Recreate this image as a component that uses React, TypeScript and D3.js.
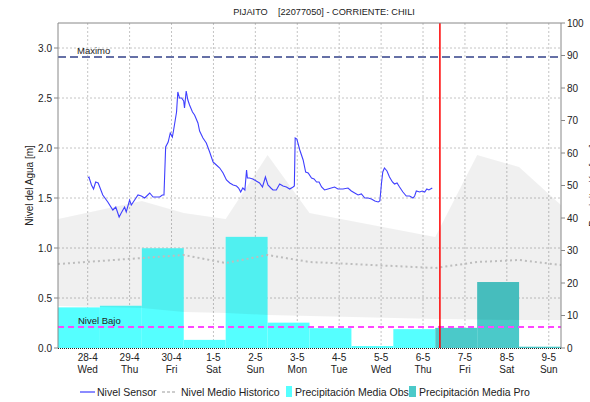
import React from 'react';
import * as d3 from 'd3';

const W = 590, H = 402;
const PL = 58, PR = 561, PT = 23, PB = 348;

const title = 'PIJAITO    [22077050] - CORRIENTE: CHILI';
const domainStart = new Date(2021, 3, 27, 7);
const domainEnd = new Date(2021, 4, 9, 7);
const sensorBase = new Date(2021, 3, 28, 0);
const DAY = 86400000;

// sensor level: days since 28-4 00:00, level in m
const sensorDays = [0.01,0.03,0.09,0.14,0.19,0.25,0.36,0.48,0.60,0.67,0.75,0.80,0.88,0.92,1.00,1.04,1.12,1.20,1.28,1.36,1.48,1.56,1.64,1.72,1.78,1.82,1.86,1.92,1.97,2.02,2.05,2.12,2.15,2.19,2.24,2.29,2.31,2.35,2.39,2.43,2.50,2.55,2.63,2.67,2.75,2.83,2.91,2.99,3.07,3.15,3.23,3.31,3.39,3.47,3.55,3.60,3.65,3.70,3.75,3.79,3.81,3.86,3.94,4.02,4.10,4.17,4.24,4.30,4.37,4.42,4.50,4.58,4.66,4.74,4.82,4.90,4.93,4.95,4.99,5.06,5.14,5.20,5.26,5.34,5.40,5.46,5.52,5.58,5.65,5.73,5.81,5.89,5.97,6.09,6.21,6.29,6.37,6.45,6.53,6.61,6.69,6.77,6.85,6.93,6.97,7.01,7.04,7.08,7.14,7.20,7.27,7.32,7.38,7.44,7.52,7.60,7.68,7.76,7.80,7.84,7.92,7.98,8.04,8.09,8.14,8.22];
const sensorLevels = [1.70,1.71,1.63,1.59,1.66,1.65,1.53,1.46,1.38,1.41,1.31,1.35,1.41,1.36,1.48,1.43,1.48,1.53,1.52,1.50,1.55,1.51,1.51,1.51,1.53,1.53,2.01,2.06,2.15,2.11,2.18,2.36,2.56,2.50,2.50,2.47,2.40,2.57,2.48,2.43,2.36,2.33,2.25,2.17,2.10,2.05,1.96,1.86,1.83,1.80,1.75,1.68,1.65,1.63,1.62,1.60,1.56,1.60,1.58,1.78,1.70,1.70,1.69,1.67,1.65,1.61,1.71,1.63,1.60,1.58,1.58,1.64,1.62,1.61,1.59,1.61,1.62,2.10,2.09,1.98,1.88,1.76,1.75,1.70,1.69,1.66,1.66,1.61,1.58,1.59,1.60,1.61,1.59,1.59,1.60,1.57,1.55,1.53,1.54,1.50,1.50,1.49,1.47,1.46,1.47,1.65,1.76,1.80,1.77,1.71,1.66,1.64,1.65,1.61,1.56,1.52,1.52,1.50,1.52,1.57,1.56,1.57,1.56,1.59,1.58,1.60];

// historical band and mean, at 07:00 of each day from 27-4 to 9-5
const histLower = [0.42,0.41,0.40,0.36,0.35,0.33,0.32,0.31,0.30,0.29,0.285,0.28,0.28];
const histUpper = [1.29,1.38,1.47,1.35,1.29,1.93,1.35,1.27,1.19,1.11,1.93,1.81,1.43];
const histMean = [0.84,0.87,0.90,0.93,0.85,0.93,0.86,0.84,0.82,0.80,0.86,0.88,0.83];

// daily precipitation (mm), 07:00 to 07:00
const precipObs = [12.5,13.0,30.7,2.5,34.2,7.8,6.1,0.6,5.8];
const precipPro = [6.2,20.3,0.4];

const nivelMaximo = 2.91;
const nivelBajo = 0.21;
const nowTime = new Date(2021, 4, 6, 9, 40);

const leftTicks = [0.0,0.5,1.0,1.5,2.0,2.5,3.0];
const rightTicks = [0,10,20,30,40,50,60,70,80,90,100];

const FONT = '"Liberation Sans", Arial, sans-serif';

export default function App() {
  const x = d3.scaleTime().domain([domainStart, domainEnd]).range([PL, PR]);
  const yL = d3.scaleLinear().domain([0, 3.25]).range([PB, PT]);
  const yR = d3.scaleLinear().domain([0, 100]).range([PB, PT]);

  const boundaryDates = d3.range(histLower.length).map(i => new Date(domainStart.getTime() + i * DAY));
  const dayTicks = d3.timeDay.range(new Date(2021, 3, 28), new Date(2021, 4, 9, 1));
  const fmtDate = d3.timeFormat('%-d-%-m');
  const fmtDay = d3.timeFormat('%a');

  const band = d3.area<number>()
    .x((_, i) => x(boundaryDates[i]))
    .y0((_, i) => yL(histLower[i]))
    .y1((_, i) => yL(histUpper[i]));
  const meanLine = d3.line<number>()
    .x((_, i) => x(boundaryDates[i]))
    .y(d => yL(d));
  const sensorLine = d3.line<number>()
    .x((_, i) => x(new Date(sensorBase.getTime() + sensorDays[i] * DAY)))
    .y(d => yL(d));

  const obsBars = precipObs.map((v, i) => {
    const a = boundaryDates[i], b = boundaryDates[i + 1];
    return { x0: x(a), x1: x(b), y: yR(v) };
  });
  const proBars = precipPro.map((v, i) => {
    const a = boundaryDates[precipObs.length + i], b = boundaryDates[precipObs.length + i + 1];
    return { x0: x(a), x1: x(b), y: yR(v) };
  });

  const gridColor = '#c4c4c4';
  const textColor = '#222';

  return (
    <svg width={W} height={H} style={{ position: 'absolute', left: 0, top: 0, background: '#fff' }} fontFamily={FONT}>
      <rect x={0} y={0} width={W} height={H} fill="#fff" />
      <text x={324} y={15} textAnchor="middle" fontSize={9.2} fill={textColor} style={{ whiteSpace: 'pre' }}>{title}</text>

      {/* grid */}
      {leftTicks.filter(t => t > 0).map(t => (
        <line key={'gh' + t} x1={PL} x2={PR} y1={yL(t)} y2={yL(t)} stroke={gridColor} strokeDasharray="2,2" />
      ))}
      {dayTicks.map(d => (
        <line key={'gv' + d.getTime()} x1={x(d)} x2={x(d)} y1={PT} y2={PB} stroke={gridColor} strokeDasharray="2,2" />
      ))}

      {/* precipitation bars */}
      {obsBars.map((b, i) => (
        <rect key={'ob' + i} x={b.x0} y={b.y} width={b.x1 - b.x0} height={PB - b.y} fill="#55ffff" />
      ))}
      {proBars.map((b, i) => (
        <rect key={'pb' + i} x={b.x0} y={b.y} width={b.x1 - b.x0} height={PB - b.y} fill="#4bc9c9" />
      ))}

      {/* historical band */}
      <path d={band(histLower) || ''} fill="#000" fillOpacity={0.06} />
      <path d={meanLine(histMean) || ''} fill="none" stroke="#bdbdbd" strokeWidth={2} strokeDasharray="2,3" />

      {/* thresholds */}
      <line x1={PL} x2={PR} y1={yL(nivelMaximo)} y2={yL(nivelMaximo)} stroke="#6570a6" strokeWidth={2} strokeDasharray="8,4" />
      <text x={77} y={yL(nivelMaximo) - 3} fontSize={9.5} fill={textColor}>Maximo</text>
      <line x1={PL} x2={PR} y1={yL(nivelBajo)} y2={yL(nivelBajo)} stroke="#ff44ff" strokeWidth={2} strokeDasharray="6,4" />
      <text x={78} y={yL(nivelBajo) - 3} fontSize={9.5} fill={textColor}>Nivel Bajo</text>

      {/* sensor */}
      <path d={sensorLine(sensorLevels) || ''} fill="none" stroke="#3f3fff" strokeWidth={1.1} />

      {/* now */}
      <line x1={x(nowTime)} x2={x(nowTime)} y1={PT} y2={PB} stroke="#ff0000" strokeWidth={1.5} />

      {/* frame */}
      <line x1={PL} x2={PR} y1={PT} y2={PT} stroke="#888" />
      <line x1={PL} x2={PL} y1={PT} y2={PB} stroke="#888" />
      <line x1={PR} x2={PR} y1={PT} y2={PB} stroke="#888" />
      <line x1={PL} x2={PR} y1={PB + 0.5} y2={PB + 0.5} stroke="#222" strokeDasharray="1,1" />

      {/* left axis */}
      {leftTicks.map(t => (
        <g key={'lt' + t}>
          <line x1={PL - 4} x2={PL} y1={yL(t)} y2={yL(t)} stroke="#888" />
          <text x={PL - 6} y={yL(t) + 3.5} textAnchor="end" fontSize={10} fill={textColor}>{t.toFixed(1)}</text>
        </g>
      ))}
      <text transform={`translate(33,${(PT + PB) / 2}) rotate(-90)`} textAnchor="middle" fontSize={10} fill={textColor}>Nivel del Agua [m]</text>

      {/* right axis */}
      {rightTicks.map(t => (
        <g key={'rt' + t}>
          <line x1={PR} x2={PR + 4} y1={yR(t)} y2={yR(t)} stroke="#888" />
          <text x={PR + 6} y={yR(t) + 3.5} textAnchor="start" fontSize={10} fill={textColor}>{t}</text>
        </g>
      ))}
      <text transform={`translate(597,${(PT + PB) / 2}) rotate(-90)`} textAnchor="middle" fontSize={10} fill={textColor}>Precipitación [mm]</text>

      {/* x axis labels */}
      {dayTicks.map(d => (
        <g key={'xl' + d.getTime()}>
          <text x={x(d)} y={361} textAnchor="middle" fontSize={10} fill={textColor}>{fmtDate(d)}</text>
          <text x={x(d)} y={373} textAnchor="middle" fontSize={10} fill={textColor}>{fmtDay(d)}</text>
        </g>
      ))}

      {/* legend */}
      <line x1={80} x2={95} y1={392} y2={392} stroke="#3f3fff" strokeWidth={1.2} />
      <text x={97} y={395.5} fontSize={10.5} fill={textColor}>Nivel Sensor</text>
      <line x1={162} x2={176} y1={392} y2={392} stroke="#bdbdbd" strokeWidth={1.5} strokeDasharray="3,2" />
      <text x={181} y={395.5} fontSize={10.5} fill={textColor}>Nivel Medio Historico</text>
      <rect x={286} y={386} width={6} height={11} fill="#55ffff" />
      <text x={295} y={395.5} fontSize={10.5} fill={textColor}>Precipitación Media Obs</text>
      <rect x={409} y={386} width={7} height={11} fill="#4bc9c9" />
      <text x={419} y={395.5} fontSize={10.5} fill={textColor}>Precipitación Media Pro</text>
    </svg>
  );
}
